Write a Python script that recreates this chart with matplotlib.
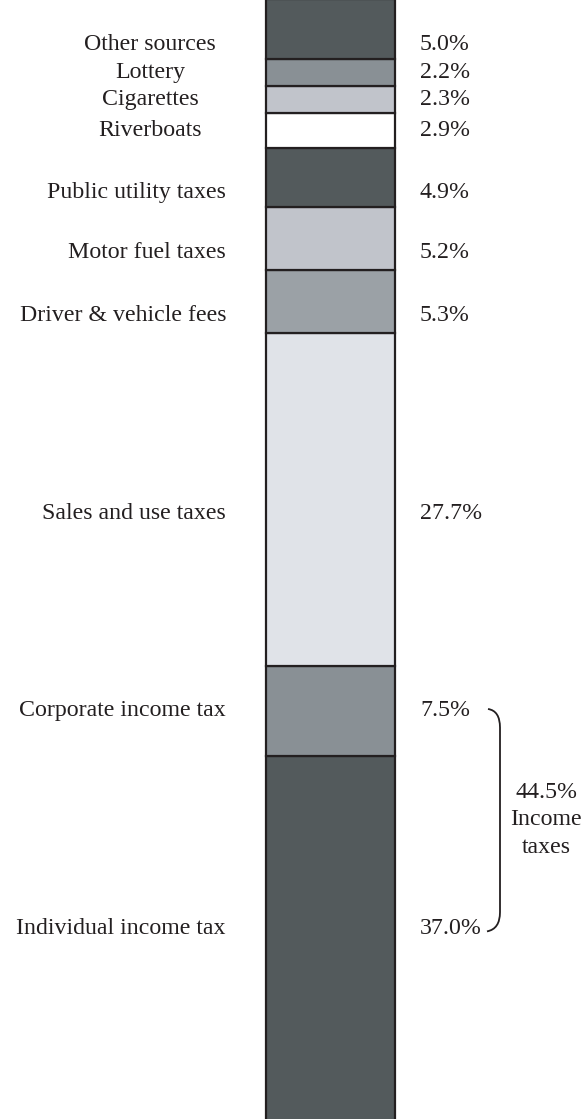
import numpy as np
import matplotlib
matplotlib.use("Agg")
import matplotlib.pyplot as plt
from matplotlib.path import Path
from matplotlib.patches import PathPatch

# ---------- data (bottom to top) ----------
sources = ["Individual income tax", "Corporate income tax", "Sales and use taxes",
           "Driver & vehicle fees", "Motor fuel taxes", "Public utility taxes",
           "Riverboats", "Cigarettes", "Lottery", "Other sources"]
shares = [37.0, 7.5, 27.7, 5.3, 5.2, 4.9, 2.9, 2.3, 2.2, 5.0]
colors = ["#535a5c", "#899095", "#e0e3e8", "#9ba1a6", "#c1c4cb",
          "#535a5c", "#ffffff", "#c1c4cb", "#899095", "#535a5c"]
income_group = ["Individual income tax", "Corporate income tax"]

plt.rcParams["font.family"] = ["Liberation Serif", "DejaVu Serif"]
FS = 17.2
INK = "#231f20"

W, H = 584, 1119
fig = plt.figure(figsize=(W / 100, H / 100), dpi=100)
ax = fig.add_axes([0, 0, 1, 1])
ax.set_xlim(0, W)
px_per_pct = 12.0
ymin, ymax = 100 - H / px_per_pct, 99.95
ax.set_ylim(ymin, ymax)
ax.axis("off")

bottoms = np.concatenate([[0], np.cumsum(shares)[:-1]])
ax.bar(330, shares, bottom=bottoms, width=129, color=colors,
       edgecolor=INK, linewidth=1.6, zorder=2)

fig.canvas.draw()
renderer = fig.canvas.get_renderer()

label_y = {}
for name, val, b in zip(sources, shares, bottoms):
    lo, hi = max(b, ymin), min(b + val, ymax)
    y = (lo + hi) / 2
    if name == income_group[0]:
        y += 0.7
    elif val >= 4 and name not in income_group:
        y -= 1.2  # text sits a little below the middle of taller blocks
    label_y[name] = y
    t = ax.text(150, y, name, ha="center", va="center", fontsize=FS, color=INK)
    # keep long labels clear of the bar
    bb = t.get_window_extent(renderer)
    if bb.x1 > 226:
        t.set_position((226, y))
        t.set_ha("right")
    ax.text(420, y, f"{val:.1f}%", ha="left", va="center", fontsize=FS, color=INK)

# bracket for income taxes
y_top = label_y[income_group[1]]
y_bot = label_y[income_group[0]]
r = 1.4
verts = [(488, y_top + 0.15), (500, y_top), (500, y_top - r),
         (500, y_bot + r),
         (500, y_bot), (487, y_bot - 0.2)]
codes = [Path.MOVETO, Path.CURVE3, Path.CURVE3, Path.LINETO, Path.CURVE3, Path.CURVE3]
ax.add_patch(PathPatch(Path(verts, codes), fill=False, lw=1.3, edgecolor=INK))

total_income = sum(v for n, v in zip(sources, shares) if n in income_group)
ax.text(546, (y_top + y_bot) / 2, f"{total_income:.1f}%\nIncome\ntaxes",
        ha="center", va="center", fontsize=FS, color=INK, linespacing=1.4)

fig.savefig("out.png", dpi=100)
